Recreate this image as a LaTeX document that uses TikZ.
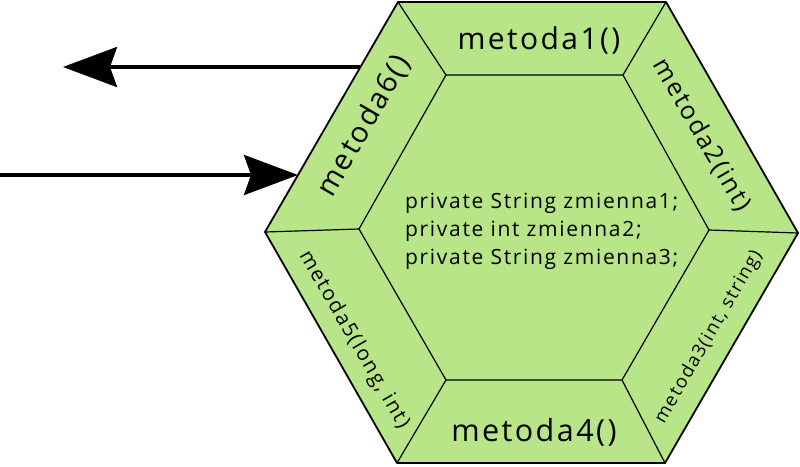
\documentclass[tikz,border=0pt]{standalone}
\usepackage{fontspec}
\setmainfont{Open Sans}[LetterSpace=8]
\usetikzlibrary{arrows.meta}
\definecolor{hexgreen}{RGB}{183,229,135}
\tikzset{
  outerline/.style={draw=black, line width=1.8pt, line join=round},
  innerline/.style={draw=black, line width=1.2pt},
  flow/.style={line width=3.5pt, -{Stealth[length=54pt, width=40pt, inset=7pt]}},
  lbl/.style={inner sep=0pt, text=black},
}
\begin{document}
\begin{tikzpicture}[x=1pt, y=-1pt]
\useasboundingbox (0,0) rectangle (800,466);
% outer vertices
\coordinate (o1) at (398,2);
\coordinate (o2) at (666,2);
\coordinate (o3) at (798,233);
\coordinate (o4) at (665,463);
\coordinate (o5) at (397,463);
\coordinate (o6) at (265,232);
% inner vertices
\coordinate (i1) at (446,75);
\coordinate (i2) at (623,75);
\coordinate (i3) at (709,230);
\coordinate (i4) at (622,380);
\coordinate (i5) at (446,380);
\coordinate (i6) at (359,229);
\fill[hexgreen] (o1) -- (o2) -- (o3) -- (o4) -- (o5) -- (o6) -- cycle;
\draw[innerline] (i1) -- (i2) -- (i3) -- (i4) -- (i5) -- (i6) -- cycle;
\draw[innerline] (o1) -- (i1) (o2) -- (i2) (o3) -- (i3) (o4) -- (i4) (o5) -- (i5) (o6) -- (i6);
\draw[outerline] (o1) -- (o2) -- (o3) -- (o4) -- (o5) -- (o6) -- cycle;
% labels
\node[lbl, font=\fontsize{30}{32}\selectfont] (m1) at (539,40) {metoda1()};
\node[lbl, font=\fontsize{30.5}{32}\selectfont] (m4) at (534,432) {metoda4()};
\node[lbl, font=\fontsize{29}{32}\selectfont, rotate=60] (m6) at (364,126) {metoda6()};
\node[lbl, font=\fontsize{25}{28}\selectfont, rotate=-60] (m2) at (702,135) {metoda2(int)};
\node[lbl, font=\fontsize{18.5}{22}\selectfont, rotate=60] (m3) at (709,337) {metoda3(int, string)};
\node[lbl, font=\fontsize{20.5}{24}\selectfont, rotate=-60] (m5) at (354,340) {metoda5(long, int)};
\node[lbl, font=\fontsize{21}{28}\selectfont, align=left, anchor=west] (vars) at (405,231)
  {private String zmienna1;\\private int zmienna2;\\private String zmienna3;};
% arrows
\coordinate (outStart) at (360,67);
\coordinate (outEnd) at (63,67);
\coordinate (inStart) at (0,175);
\coordinate (inEnd) at (298,175);
\draw[flow] (outStart) -- (outEnd);
\draw[flow] (inStart) -- (inEnd);
\end{tikzpicture}
\end{document}
